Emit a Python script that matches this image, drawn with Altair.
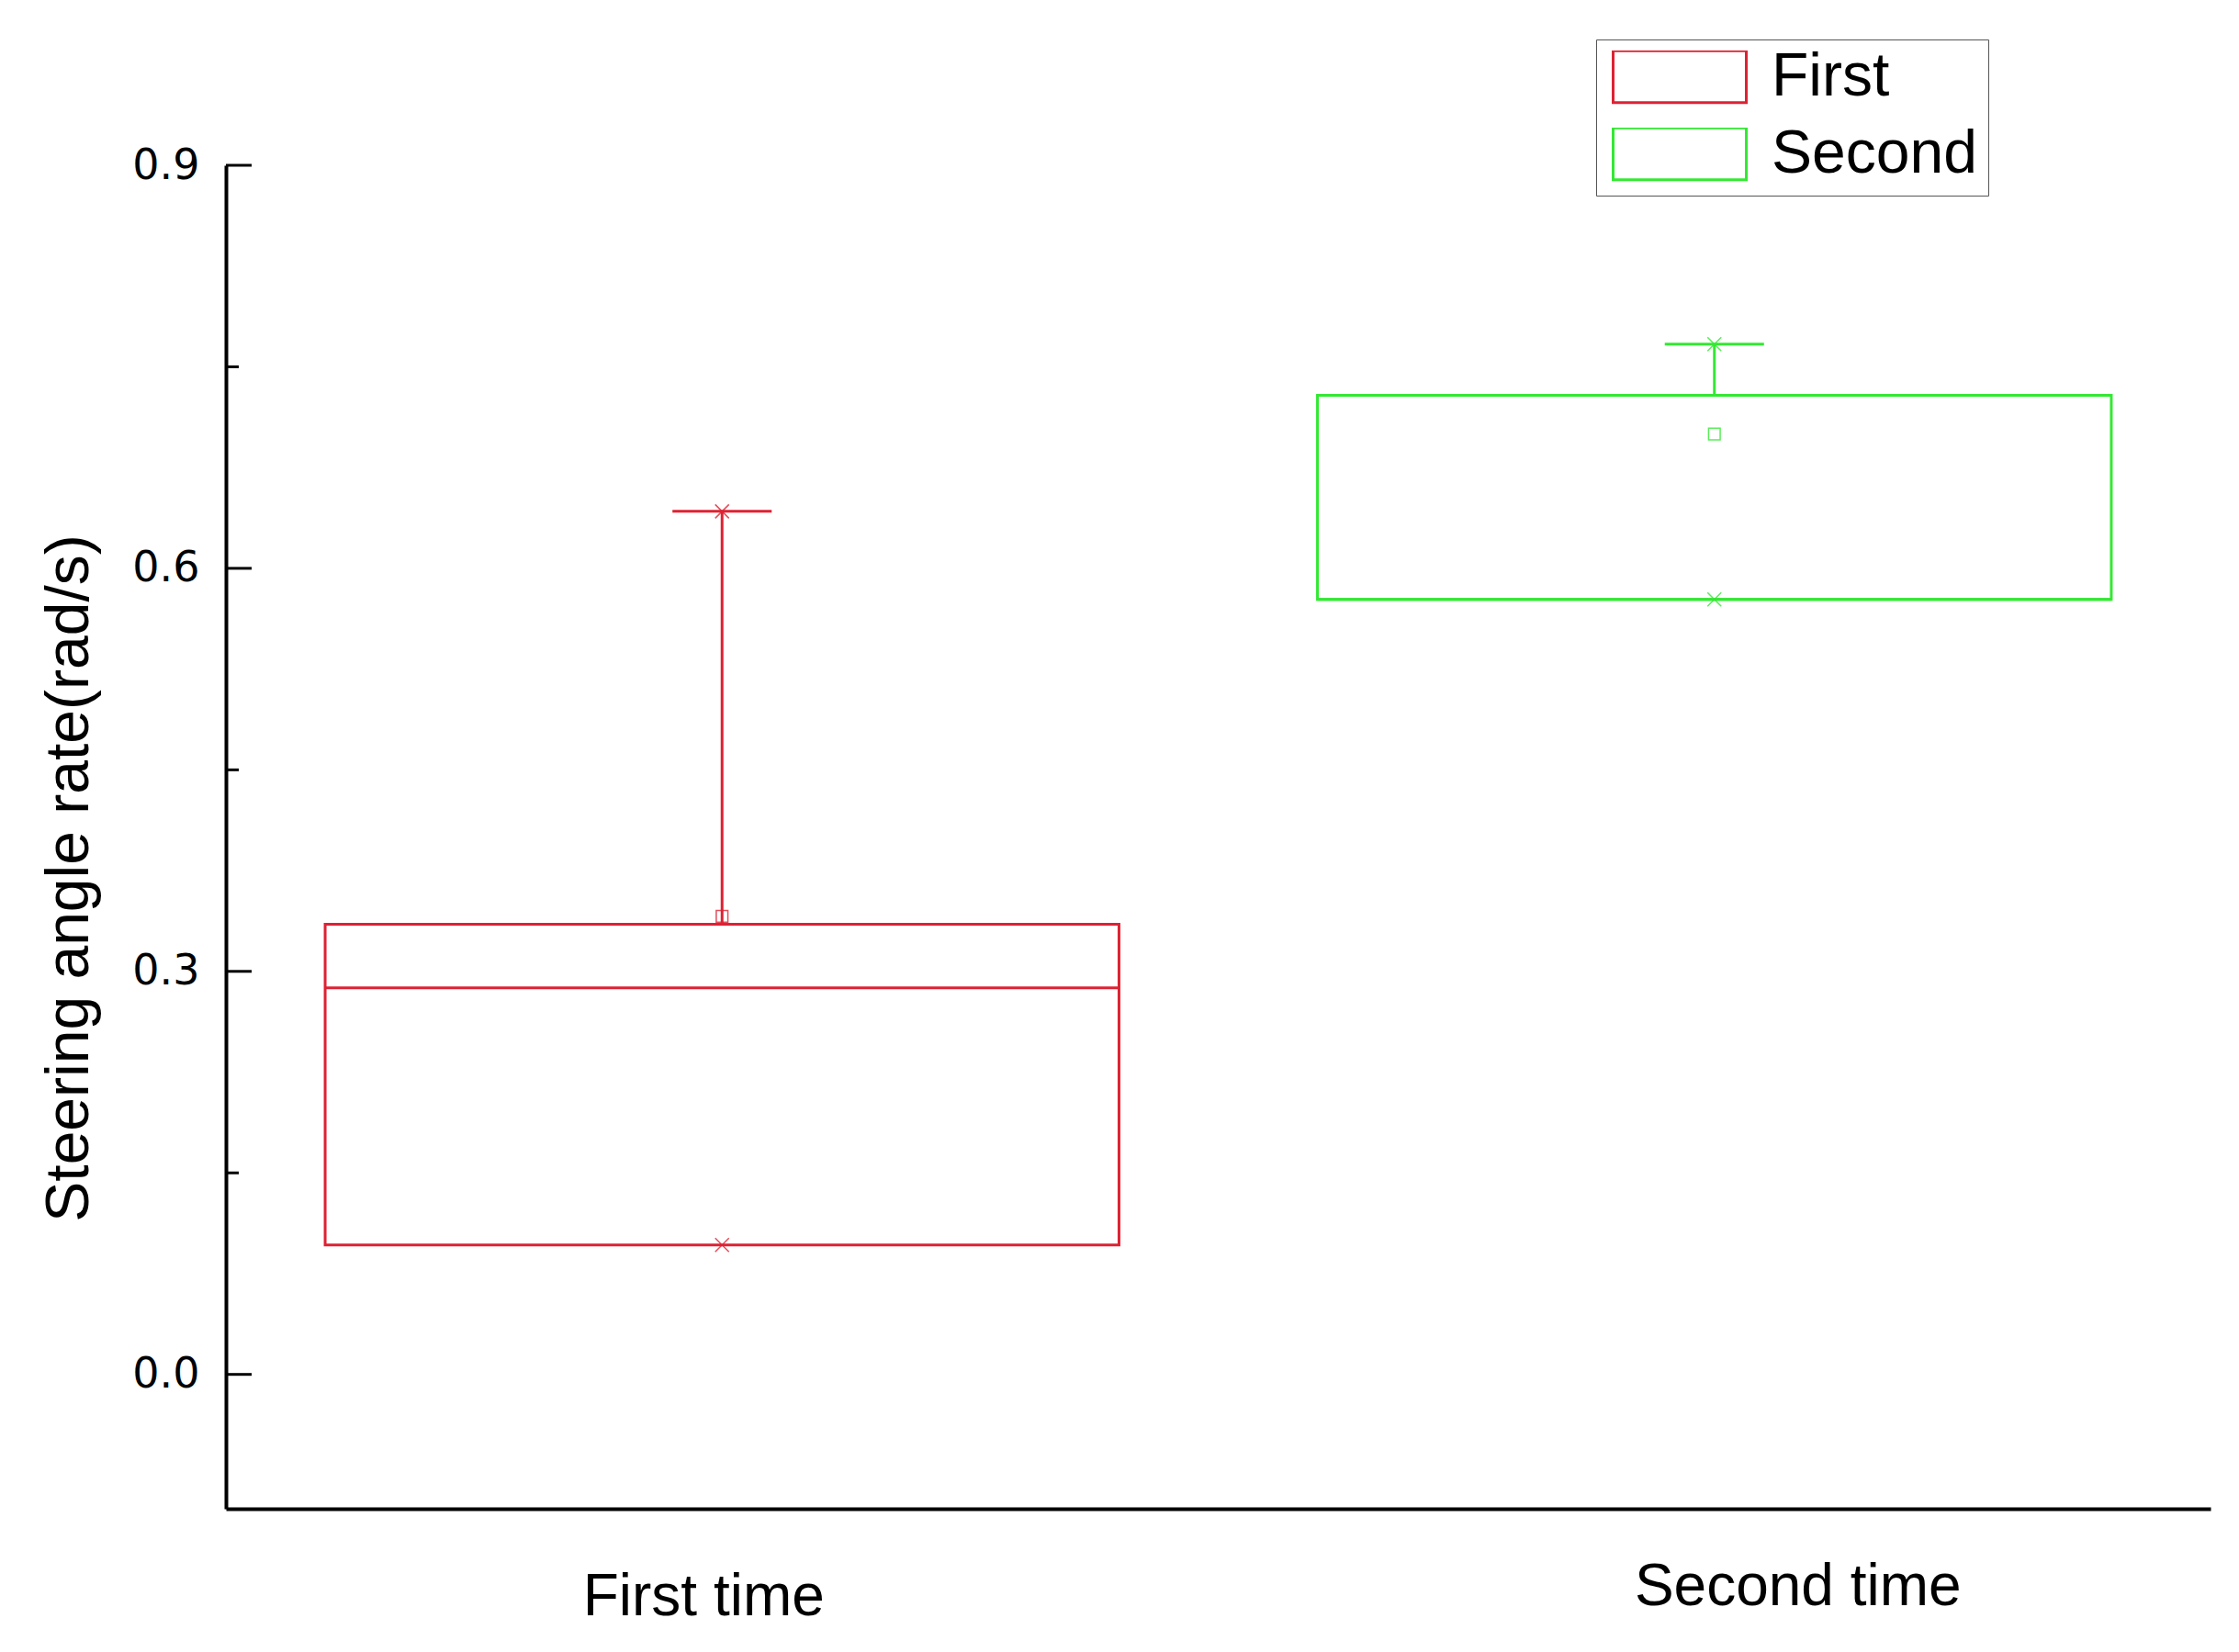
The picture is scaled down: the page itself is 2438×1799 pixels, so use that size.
import altair as alt
import pandas as pd

categories = ["First time", "Second time"]
series = ["First", "Second"]
q1 = [0.0964, 0.5768]
median = [0.2877, 0.5768]
q3 = [0.335, 0.7287]
upper = [0.6424, 0.7669]
lower = [0.0964, 0.5768]
mean = [0.341, 0.700]
y_major = [0.0, 0.3, 0.6, 0.9]
y_minor = [0.15, 0.45, 0.75]
colors = ["#dd2233", "#33e833"]

df = pd.DataFrame({
    "category": categories,
    "series": series,
    "q1": q1,
    "median": median,
    "q3": q3,
    "upper": upper,
    "lower": lower,
    "mean": mean,
})
major_df = pd.DataFrame({"v": y_major})
minor_df = pd.DataFrame({"v": y_minor})

yscale = alt.Scale(domain=[-0.1, 0.9], nice=False, zero=False)
xscale = alt.Scale(domain=categories, paddingInner=0, paddingOuter=0)
stroke_scale = alt.Scale(domain=series, range=colors)
YTITLE = "Steering angle rate(rad/s)"

x_axis = alt.Axis(
    labelFont="Liberation Sans", labelFontSize=64, labelColor="black", labelAngle=0,
    ticks=False, tickSize=0, domainWidth=4, domainColor="black", grid=False,
    labelBaseline="alphabetic", labelLimit=0,
    labelOffset={"condition": {"test": "datum.value == 'Second time'", "value": 91}, "value": -20},
    labelPadding={"condition": {"test": "datum.value == 'Second time'", "value": 104}, "value": 115},
)
y_axis = alt.Axis(
    values=y_major, format=".1f", labelFont="DejaVu Sans", labelFontSize=46, labelColor="black",
    ticks=False, tickSize=0, labelPadding=29, domainWidth=4, domainColor="black", grid=False,
    titleFont="Liberation Sans", titleFontSize=66, titleFontWeight="normal", titleColor="black",
    titleX=-151, titleY=776, titleAlign="center", titleBaseline="alphabetic", titleAngle=270,
)

legend = alt.Legend(
    title=None, orient="none", legendX=1492, legendY=-137,
    symbolType="M-1,-0.39H1V0.39H-1Z", symbolSize=21025, symbolStrokeWidth=3,
    symbolFillColor="white", symbolOffset=5, clipHeight=57, rowPadding=17, labelOffset=26,
    labelFont="Liberation Sans", labelFontSize=66, labelColor="black", labelLimit=0,
    padding=12, strokeColor="#555555",
)


def X():
    return alt.X("category:N", scale=xscale, axis=x_axis, title=None)


def Y(field):
    return alt.Y(f"{field}:Q", scale=yscale, axis=y_axis, title=YTITLE)


S = alt.Stroke("series:N", scale=stroke_scale, legend=legend)

base = alt.Chart(df)

whisker = base.mark_rule(strokeWidth=3).encode(
    x=X(), y=Y("q3"), y2="upper:Q", stroke=S)
cap = base.mark_bar(width=alt.RelativeBandSize(0.1), fill="transparent", strokeWidth=3).encode(
    x=X(), y=Y("upper"), y2="upper:Q", stroke=S)
box = base.mark_bar(width=alt.RelativeBandSize(0.8), fill="transparent", strokeWidth=3).encode(
    x=X(), y=Y("q1"), y2="q3:Q", stroke=S)
med = base.mark_bar(width=alt.RelativeBandSize(0.8), fill="transparent", strokeWidth=3).encode(
    x=X(), y=Y("median"), y2="median:Q", stroke=S)

xshape = "M-1,-1L1,1M-1,1L1,-1"
max_pt = base.mark_point(shape=xshape, size=225, filled=False, strokeWidth=1.5, opacity=0.8).encode(
    x=X(), y=Y("upper"), stroke=S)
min_pt = base.mark_point(shape=xshape, size=225, filled=False, strokeWidth=1.5, opacity=0.8).encode(
    x=X(), y=Y("lower"), stroke=S)
mean_pt = base.mark_point(shape="square", size=160, filled=False, strokeWidth=1.5, opacity=0.8).encode(
    x=X(), y=Y("mean"), stroke=S)

major_ticks = alt.Chart(major_df).mark_rule(color="black", strokeWidth=3).encode(
    y=Y("v"), x=alt.value(0), x2=alt.value(28))
minor_ticks = alt.Chart(minor_df).mark_rule(color="black", strokeWidth=3).encode(
    y=Y("v"), x=alt.value(0), x2=alt.value(14))

chart = alt.layer(
    box, whisker, cap, med, max_pt, min_pt, mean_pt, major_ticks, minor_ticks
).properties(
    width=2161, height=1463,
    autosize=alt.AutoSizeParams(type="none"),
    padding={"left": 238, "top": 172, "right": 20, "bottom": 130},
    background="white",
).configure_view(stroke=None)

chart.save("out.html", embed_options={"renderer": "svg", "actions": False})
